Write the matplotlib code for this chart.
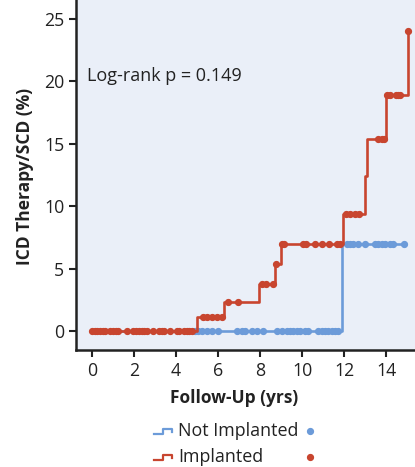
import matplotlib
matplotlib.use("Agg")
import matplotlib.pyplot as plt

plt.rcParams['font.family'] = ['Open Sans', 'DejaVu Sans']

# step curves (years, cumulative %)
impl_t = [0, 4.98, 6.3, 7.97, 8.72, 8.98, 11.97, 13.0, 13.08, 13.98, 15.03]
impl_y = [0, 1.1, 2.35, 3.8, 5.4, 7.0, 9.4, 12.4, 15.4, 18.9, 24.0]
noimp_t = [0, 11.92, 14.87]
noimp_y = [0, 7.0, 7.0]

# censored observations
impl_cens_t = [0.02, 0.14, 0.25, 0.38, 0.51, 0.62, 0.86, 1.02, 1.14, 1.25, 1.65,
               1.97, 2.1, 2.24, 2.37, 2.49, 2.6, 2.92, 3.19, 3.32, 3.44, 3.71,
               4.03, 4.16, 4.38, 4.51, 4.63, 4.75,
               5.3, 5.5, 5.7, 5.95, 6.2,
               6.49, 6.97,
               8.1, 8.3, 8.6,
               8.76,
               9.05, 9.16, 10.06, 10.19, 10.62, 10.94, 11.3, 11.65, 11.81,
               12.1, 12.3, 12.5, 12.7,
               13.63, 13.8, 13.9,
               14.05, 14.19, 14.48, 14.59, 14.67,
               15.03]
impl_cens_y = [0] * 28 + [1.1] * 5 + [2.35] * 2 + [3.8] * 3 + [5.4] + [7.0] * 9 \
    + [9.4] * 4 + [15.4] * 3 + [18.9] * 5 + [24.0]
noimp_cens_t = [4.9, 5.06, 5.22, 5.46, 5.7, 6.01, 6.89, 7.13, 7.29, 7.6, 7.84, 8.16,
                8.79, 9.03, 9.27, 9.43, 9.59, 9.75, 9.9, 10.14, 10.3,
                10.78, 10.94, 11.1, 11.25, 11.41, 11.57, 11.73,
                12.13, 12.29, 12.44, 12.68, 13.0, 13.48, 13.63, 13.79, 13.95,
                14.19, 14.35, 14.87]
noimp_cens_y = [0] * 28 + [7.0] * 12

red = '#c8452f'
blue = '#6c9bd9'
ink = '#222222'

fig = plt.figure(figsize=(4.15, 4.67), dpi=100, facecolor='white')
ax = fig.add_axes([76 / 415, 1 - 350 / 467, 1 - 76 / 415, 350 / 467])
ax.set_facecolor('#eaeff8')

ax.step(noimp_t, noimp_y, where='post', color=blue, lw=1.9, zorder=2)
ax.plot(noimp_cens_t, noimp_cens_y, 'o', color=blue, ms=4.2, zorder=3)
ax.step(impl_t, impl_y, where='post', color=red, lw=1.9, zorder=4)
ax.plot(impl_cens_t, impl_cens_y, 'o', color=red, ms=4.2, zorder=5)

ax.set_xlim(-0.76, 15.38)
ax.set_ylim(-1.52, 26.5)
ax.set_xticks(range(0, 15, 2))
ax.set_yticks(range(0, 26, 5))
ax.tick_params(direction='out', length=5, width=1.5, labelsize=12.8, color=ink,
               labelcolor=ink)
for s in ['top', 'right']:
    ax.spines[s].set_visible(False)
for s in ['left', 'bottom']:
    ax.spines[s].set_linewidth(1.8)
    ax.spines[s].set_color(ink)

ax.text(-0.25, 20.4, 'Log-rank p = 0.149', fontsize=13, va='center', color=ink)

fig.text(25 / 415, 1 - 176 / 467, 'ICD Therapy/SCD (%)', rotation=90, fontsize=12.5,
         fontweight='bold', ha='center', va='center', color=ink)
fig.text(234.5 / 415, 1 - 398 / 467, 'Follow-Up (yrs)', fontsize=12.5,
         fontweight='bold', ha='center', va='center', color=ink)

# legend
lax = fig.add_axes([0, 0, 1, 1], facecolor='none')
lax.set_xlim(0, 415)
lax.set_ylim(467, 0)
lax.axis('off')
for yy, col, lab in [(431, blue, 'Not Implanted'), (457, red, 'Implanted')]:
    lax.plot([154, 163, 163, 172, 172], [yy + 3, yy + 3, yy - 2, yy - 2, yy + 1],
             color=col, lw=1.6)
    lax.text(178, yy, lab, fontsize=12.9, va='center', color=ink)
    lax.plot([310], [yy], 'o', color=col, ms=4.2)

fig.savefig('out.png', dpi=100, facecolor=fig.get_facecolor())
